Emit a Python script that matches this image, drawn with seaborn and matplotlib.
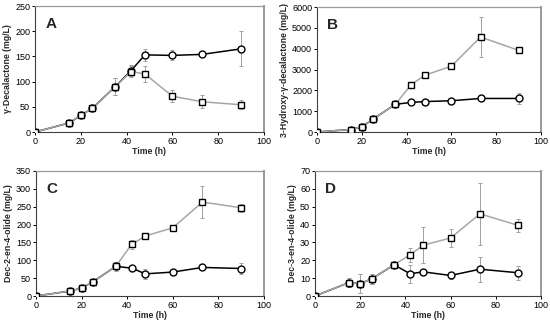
import numpy as np
import pandas as pd
import matplotlib
matplotlib.use("Agg")
import matplotlib.pyplot as plt
import seaborn as sns

sns.set_style("white")
plt.rcParams['font.family'] = ['Liberation Sans', 'DejaVu Sans']

# sampling times (h)
time = [0, 15, 20, 25, 35, 42, 48, 60, 73, 90]

# A: gamma-decalactone
a_sq = [0, 18, 33, 47, 90, 120, 115, 71, 60, 54]
a_sq_err = [0, 2, 2, 3, 17, 10, 15, 12, 13, 9]
a_ci = [0, 18, 33, 47, 90, 122, 153, 152, 154, 165]
a_ci_err = [0, 2, 2, 3, 17, 10, 12, 10, 3, 35]

# B: 3-hydroxy-gamma-decalactone
b_sq = [0, 120, 250, 620, 1330, 2270, 2720, 3160, 4560, 3920]
b_sq_err = [0, 30, 40, 50, 80, 100, 80, 80, 950, 100]
b_ci = [0, 120, 250, 620, 1330, 1420, 1460, 1500, 1610, 1610]
b_ci_err = [0, 30, 40, 50, 80, 60, 50, 60, 60, 250]

# C: dec-2-en-4-olide
c_sq = [0, 14, 22, 40, 83, 145, 168, 191, 263, 247]
c_sq_err = [0, 2, 3, 3, 12, 12, 5, 5, 45, 12]
c_ci = [0, 14, 22, 40, 83, 78, 62, 67, 80, 77]
c_ci_err = [0, 2, 3, 3, 12, 5, 15, 5, 5, 15]

# D: dec-3-en-4-olide
d_sq = [0, 7.5, 7, 9.5, 17.5, 23, 28.5, 32.5, 46, 39.5]
d_sq_err = [0, 2.5, 5.5, 3, 1, 4, 10, 5, 17.5, 3.5]
d_ci = [0, 7.5, 7, 9.5, 17.5, 12.5, 13.5, 11.5, 15, 13]
d_ci_err = [0, 2.5, 5.5, 3, 1, 5, 1, 2, 7, 4]

panels = [
    ("A", "γ-Decalactone (mg/L)", a_sq, a_sq_err, a_ci, a_ci_err, 250, 50),
    ("B", "3-Hydroxy-γ-decalactone (mg/L)", b_sq, b_sq_err, b_ci, b_ci_err, 6000, 1000),
    ("C", "Dec-2-en-4-olide (mg/L)", c_sq, c_sq_err, c_ci, c_ci_err, 350, 50),
    ("D", "Dec-3-en-4-olide (mg/L)", d_sq, d_sq_err, d_ci, d_ci_err, 70, 10),
]

# axes boxes in pixels (left, top, width, height)
W, H = 550, 324
boxes = [
    (35, 6, 229, 126),
    (317, 7, 224, 125),
    (36, 171, 228, 125),
    (315, 171, 226, 125),
]

fig = plt.figure(figsize=(5.5, 3.24), dpi=100)

for (letter, ylabel, sq, sq_err, ci, ci_err, ymax, ystep), (x0, y0, w, h) in zip(panels, boxes):
    ax = fig.add_axes([x0 / W, 1 - (y0 + h) / H, w / W, h / H])
    df_sq = pd.DataFrame({"t": time, "v": sq})
    df_ci = pd.DataFrame({"t": time, "v": ci})

    ax.errorbar(time, ci, yerr=ci_err, fmt="none", ecolor="#a0a0a0",
                elinewidth=0.7, capsize=1.2, capthick=0.7, zorder=1)
    ax.errorbar(time, sq, yerr=sq_err, fmt="none", ecolor="#a0a0a0",
                elinewidth=0.7, capsize=1.2, capthick=0.7, zorder=1)

    sns.lineplot(data=df_ci, x="t", y="v", ax=ax, color="black", lw=1.1,
                 marker="o", markersize=5, markerfacecolor="white",
                 markeredgecolor="black", markeredgewidth=1.0, zorder=2)
    sns.lineplot(data=df_sq, x="t", y="v", ax=ax, color="#a6a6a6", lw=1.1,
                 marker="s", markersize=5, markerfacecolor="white",
                 markeredgecolor="black", markeredgewidth=1.0, zorder=3)

    ax.set_xlim(0, 100)
    ax.set_ylim(0, ymax)
    ax.set_xticks(np.arange(0, 101, 20))
    ax.set_yticks(np.arange(0, ymax + 1, ystep))
    ax.tick_params(axis="both", labelsize=6.5, length=2.5, width=0.7,
                   direction="out", pad=1, colors="black", bottom=True, left=True)
    ax.set_xlabel("Time (h)", fontsize=6.3, fontweight="bold", labelpad=1)
    ax.set_ylabel(ylabel, fontsize=6.3, fontweight="bold", labelpad=2)

    for side in ["left", "bottom"]:
        ax.spines[side].set_color("#404040")
        ax.spines[side].set_linewidth(0.8)
    for side in ["top", "right"]:
        ax.spines[side].set_color("#9a9a9a")
        ax.spines[side].set_linewidth(0.9)
    ax.spines["right"].set_linewidth(1.4)

    ax.text(0.045, 0.915, letter, transform=ax.transAxes, fontsize=11,
            fontweight="bold", va="top", ha="left")

fig.savefig("out.png", dpi=100)
